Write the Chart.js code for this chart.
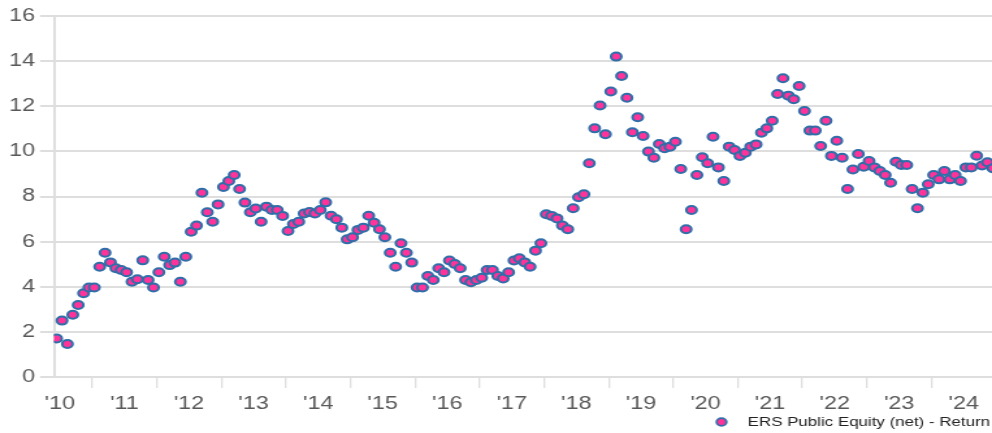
<!DOCTYPE html>
<html>
<head>
<meta charset="utf-8">
<script src="https://cdn.jsdelivr.net/npm/chart.js@4.4.1/dist/chart.umd.min.js"></script>
<style>
  html, body { margin: 0; padding: 0; background: #fff; }
  #returnsChart { display: block; }
</style>
</head>
<body>
<!-- drawn narrower and stretched sideways, like the reference image -->
<canvas id="returnsChart" width="763" height="433" style="width:992px;height:433px"></canvas>
<script>
// monthly return readings, first one is mid June 2010
const returns = [
  1.71, 2.50, 1.46, 2.76, 3.19, 3.71, 3.97, 3.97, 4.89, 5.51, 5.08, 4.82,
  4.74, 4.64, 4.22, 4.33, 5.17, 4.30, 3.97, 4.64, 5.33, 4.96, 5.07, 4.22,
  5.33, 6.44, 6.71, 8.17, 7.30, 6.88, 7.65, 8.42, 8.69, 8.95, 8.33, 7.73,
  7.30, 7.47, 6.88, 7.55, 7.40, 7.40, 7.14, 6.47, 6.78, 6.88, 7.25, 7.31,
  7.25, 7.40, 7.74, 7.15, 6.99, 6.62, 6.10, 6.19, 6.52, 6.62, 7.15, 6.84,
  6.55, 6.19, 5.51, 4.89, 5.93, 5.51, 5.07, 3.97, 3.97, 4.48, 4.30, 4.82,
  4.64, 5.16, 5.01, 4.82, 4.30, 4.20, 4.30, 4.40, 4.74, 4.74, 4.48, 4.37,
  4.64, 5.16, 5.26, 5.08, 4.89, 5.60, 5.93, 7.21, 7.14, 7.03, 6.71, 6.55,
  7.48, 7.97, 8.10, 9.47, 11.02, 12.03, 10.76, 12.65, 14.20, 13.34, 12.38, 10.85,
  11.51, 10.68, 9.99, 9.72, 10.33, 10.14, 10.21, 10.43, 9.22, 6.55, 7.40, 8.95,
  9.74, 9.47, 10.65, 9.29, 8.69, 10.21, 10.06, 9.80, 9.94, 10.21, 10.31, 10.83,
  11.02, 11.36, 12.54, 13.24, 12.47, 12.31, 12.90, 11.79, 10.92, 10.92, 10.24, 11.36,
  9.80, 10.47, 9.72, 8.33, 9.20, 9.88, 9.32, 9.57, 9.29, 9.13, 8.95, 8.61,
  9.54, 9.40, 9.40, 8.33, 7.48, 8.17, 8.54, 8.95, 8.76, 9.13, 8.76, 8.95,
  8.69, 9.29, 9.29, 9.81, 9.37, 9.52, 9.25
];
const yearLabels = ["'10", "'11", "'12", "'13", "'14", "'15", "'16", "'17",
                    "'18", "'19", "'20", "'21", "'22", "'23", "'24"];
const yTicks = [0, 2, 4, 6, 8, 10, 12, 14, 16];
const seriesName = 'ERS Public Equity (net) - Return';

const firstNewYear = 6.6; // months from the first reading to 1 Jan 2011

const pink = '#ff3399';
const blue = '#2f6ea8';
const gridGrey = '#dedede';
const labelGrey = '#595959';
const fontFamily = '"Liberation Sans", Arial, sans-serif';

// year boundaries get a tick mark, year middles get the label
const xTicks = [];
yearLabels.forEach((lab, i) => {
  xTicks.push({ value: firstNewYear - 6 + 12 * i, yearLabel: lab });
  if (i < yearLabels.length - 1) xTicks.push({ value: firstNewYear + 12 * i, yearLabel: '' });
});

const legendDot = document.createElement('canvas');
legendDot.width = 12;
legendDot.height = 12;
const g = legendDot.getContext('2d');
g.beginPath();
g.arc(6, 6, 3.8, 0, Math.PI * 2);
g.fillStyle = pink;
g.fill();
g.lineWidth = 1.8;
g.strokeStyle = blue;
g.stroke();

const ctx = document.getElementById('returnsChart').getContext('2d');
new Chart(ctx, {
    type: 'scatter',
    data: {
        datasets: [{
            label: seriesName,
            data: returns.map((v, i) => ({ x: i, y: v })),
            backgroundColor: pink,
            borderColor: blue,
            borderWidth: 2,
            pointRadius: 4,
            pointHoverRadius: 4
        }]
    },
    options: {
        responsive: false,
        animation: false,
        events: [],
        layout: {
            autoPadding: false,
            padding: { top: 16, left: 0, right: 0, bottom: -5.5 }
        },
        scales: {
            x: {
                type: 'linear',
                min: -0.5,
                max: 173.85,
                afterBuildTicks: (scale) => {
                    scale.ticks = xTicks.map(t => ({ value: t.value, yearLabel: t.yearLabel }));
                },
                afterFit: (scale) => {
                    scale.height = 37;
                    scale.paddingLeft = 0;
                    scale.paddingRight = 0;
                },
                ticks: {
                    autoSkip: false,
                    maxRotation: 0,
                    padding: 5.7,
                    color: labelGrey,
                    font: { family: fontFamily, size: 18 },
                    callback: (v, i, ticks) => ticks[i].yearLabel
                },
                grid: {
                    drawOnChartArea: false,
                    tickLength: 11,
                    lineWidth: 1.3,
                    tickColor: (c) => (c.tick && c.tick.yearLabel) ? 'rgba(0,0,0,0)' : gridGrey
                },
                border: { display: false }
            },
            y: {
                min: 0,
                max: 16,
                afterBuildTicks: (scale) => {
                    scale.ticks = yTicks.map(v => ({ value: v }));
                },
                afterFit: (scale) => {
                    scale.width = 41.5;
                },
                ticks: {
                    padding: 3.9,
                    color: labelGrey,
                    font: { family: fontFamily, size: 18 }
                },
                grid: {
                    color: gridGrey,
                    lineWidth: 2,
                    tickLength: 10.7
                },
                border: { display: true, color: gridGrey, width: 2 }
            }
        },
        plugins: {
            tooltip: { enabled: false },
            legend: {
                position: 'bottom',
                align: 'end',
                labels: {
                    usePointStyle: true,
                    pointStyle: legendDot,
                    pointStyleWidth: 27.4,
                    padding: 1.5,
                    color: '#222',
                    font: { family: fontFamily, size: 13 }
                }
            }
        }
    }
});
</script>
</body>
</html>
